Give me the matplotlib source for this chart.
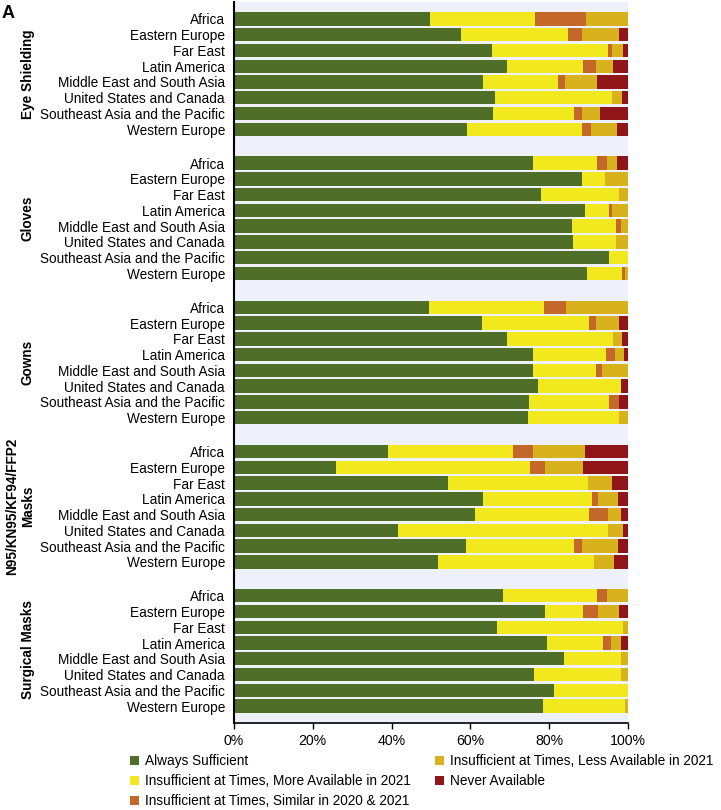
import numpy as np
import matplotlib.pyplot as plt
from matplotlib.patches import Patch

plt.rcParams['font.family'] = ['Liberation Sans', 'DejaVu Sans']

regions = ['Africa', 'Eastern Europe', 'Far East', 'Latin America',
           'Middle East and South Asia', 'United States and Canada',
           'Southeast Asia and the Pacific', 'Western Europe']

supplies = ['Eye Shielding', 'Gloves', 'Gowns', 'N95/KN95/KF94/FFP2\nMasks', 'Surgical Masks']

categories = ['Always Sufficient',
              'Insufficient at Times, More Available in 2021',
              'Insufficient at Times, Similar in 2020 & 2021',
              'Insufficient at Times, Less Available in 2021',
              'Never Available']
colors = ['#4f6f28', '#f2e81e', '#c4682a', '#d8b21c', '#8f1519']

# percent per region: [always, more, similar, less, never]
eye_shielding = [
    [49.8, 26.5, 13.0, 10.7, 0.0],
    [57.5, 27.3, 3.6, 9.4, 2.2],
    [65.5, 29.3, 1.2, 2.8, 1.2],
    [69.2, 19.5, 3.1, 4.3, 3.9],
    [63.3, 19.0, 1.6, 8.2, 7.9],
    [66.3, 29.7, 0.0, 2.6, 1.4],
    [65.8, 20.4, 2.1, 4.7, 7.0],
    [59.2, 29.0, 2.3, 6.6, 2.9],
]
gloves = [
    [75.8, 16.3, 2.5, 2.5, 2.9],
    [88.2, 6.0, 0.0, 5.8, 0.0],
    [77.8, 19.9, 0.0, 2.3, 0.0],
    [89.0, 6.2, 0.7, 4.1, 0.0],
    [85.8, 11.2, 1.3, 1.7, 0.0],
    [86.1, 10.9, 0.0, 3.0, 0.0],
    [95.3, 4.7, 0.0, 0.0, 0.0],
    [89.6, 9.0, 0.6, 0.8, 0.0],
]
gowns = [
    [49.4, 29.3, 5.5, 15.8, 0.0],
    [63.0, 27.2, 1.8, 5.8, 2.2],
    [69.3, 27.0, 0.0, 2.3, 1.4],
    [76.0, 18.5, 2.3, 2.1, 1.1],
    [76.0, 15.8, 1.7, 6.5, 0.0],
    [77.1, 21.0, 0.0, 0.0, 1.9],
    [74.9, 20.4, 2.4, 0.0, 2.3],
    [74.6, 23.1, 0.0, 2.3, 0.0],
]
n95_masks = [
    [39.2, 31.7, 5.1, 13.2, 10.8],
    [25.8, 49.4, 3.7, 9.8, 11.3],
    [54.2, 35.6, 0.0, 6.1, 4.1],
    [63.2, 27.7, 1.6, 5.0, 2.5],
    [61.1, 29.1, 4.7, 3.3, 1.8],
    [41.7, 53.2, 0.0, 3.9, 1.2],
    [58.9, 27.3, 2.2, 9.1, 2.5],
    [51.7, 39.6, 0.0, 5.2, 3.5],
]
surgical_masks = [
    [68.2, 23.9, 2.5, 5.4, 0.0],
    [79.0, 9.7, 3.8, 5.3, 2.2],
    [66.8, 32.0, 0.0, 1.2, 0.0],
    [79.6, 14.2, 2.2, 2.4, 1.8],
    [83.8, 14.4, 0.0, 1.8, 0.0],
    [76.2, 21.9, 0.0, 1.9, 0.0],
    [81.3, 18.7, 0.0, 0.0, 0.0],
    [78.5, 20.7, 0.0, 0.8, 0.0],
]
data = [eye_shielding, gloves, gowns, n95_masks, surgical_masks]

fig = plt.figure(figsize=(7.21, 8.10), dpi=100)
left, right = 234 / 721, 628 / 721
top, bottom = 1 - 2 / 810, 1 - 723 / 810
panel_h = (top - bottom) / len(supplies)

y = np.arange(len(regions))
for k, (name, values) in enumerate(zip(supplies, data)):
    ax = fig.add_axes([left, top - (k + 1) * panel_h, right - left, panel_h])
    ax.set_facecolor('#eef1f9')
    values = np.array(values)
    values = values / values.sum(axis=1, keepdims=True) * 100
    start = np.zeros(len(regions))
    for j in range(len(categories)):
        ax.barh(y, values[:, j], left=start, height=0.85, color=colors[j], linewidth=0)
        start += values[:, j]
    ax.set_xlim(0, 100)
    ax.set_ylim(len(regions) - 1 + 1.07, -1.07)
    ax.set_yticks(y)
    ax.set_yticklabels(regions, fontsize=9.8)
    ax.tick_params(axis='y', length=0, pad=6.5)
    for s in ['top', 'right', 'bottom']:
        ax.spines[s].set_visible(False)
    ax.spines['left'].set_linewidth(1.5)
    if k == len(supplies) - 1:
        ax.spines['bottom'].set_visible(True)
        ax.spines['bottom'].set_linewidth(1.2)
        ax.set_xticks([0, 20, 40, 60, 80, 100])
        ax.set_xticklabels(['0%', '20%', '40%', '60%', '80%', '100%'], fontsize=10.2)
        ax.tick_params(axis='x', length=4, width=1, pad=4)
    else:
        ax.set_xticks([])
    yc = 1 - (2 + 144 * k + 72) / 810
    fig.text(35 / 721, yc, name, rotation=90, ha='right', va='center',
             multialignment='center', fontsize=9.8, fontweight='bold')

fig.text(2 / 721, 1 - 13 / 810, 'A', fontsize=13, fontweight='bold', va='center', ha='left')

handles = [Patch(facecolor=c, edgecolor='none') for c in colors]
fig.legend(handles, categories, ncol=2, loc='upper left',
           bbox_to_anchor=(130 / 721, 1 - 754 / 810), frameon=False,
           fontsize=9.8, handlelength=0.65, handleheight=0.65, handletextpad=0.45,
           columnspacing=1.8, labelspacing=0.45, borderaxespad=0, borderpad=0)

fig.savefig('out.png', dpi=100)
